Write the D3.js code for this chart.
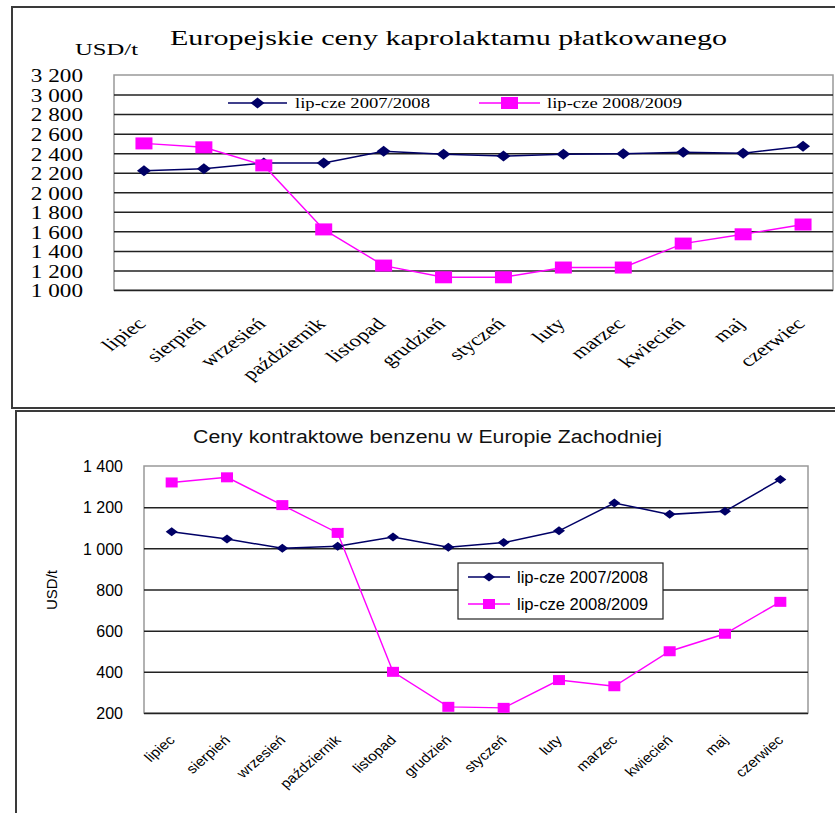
<!DOCTYPE html>
<html>
<head>
<meta charset="utf-8">
<script src="https://cdn.jsdelivr.net/npm/d3@7"></script>
<style>
  html, body { margin: 0; padding: 0; background: #fff; }
  svg { display: block; }
</style>
</head>
<body>
<svg id="chart" width="835" height="813"></svg>
<script>
// ---------- DATA ----------
const months = ["lipiec","sierpień","wrzesień","październik","listopad","grudzień","styczeń","luty","marzec","kwiecień","maj","czerwiec"];
const seriesNames = ["lip-cze 2007/2008", "lip-cze 2008/2009"];

const caproTitle = "Europejskie ceny kaprolaktamu płatkowanego";
const capro0708 = [2220, 2240, 2300, 2300, 2420, 2390, 2370, 2390, 2395, 2410, 2400, 2470];
const capro0809 = [2500, 2460, 2275, 1620, 1250, 1130, 1130, 1230, 1230, 1475, 1570, 1670];
const caproTicks = [1000, 1200, 1400, 1600, 1800, 2000, 2200, 2400, 2600, 2800, 3000, 3200];

const benzTitle = "Ceny kontraktowe benzenu w Europie Zachodniej";
const benz0708 = [1080, 1045, 1000, 1010, 1055, 1005, 1028, 1085, 1220, 1165, 1180, 1335];
const benz0809 = [1320, 1345, 1210, 1075, 400, 230, 225, 360, 330, 500, 585, 740];
const benzTicks = [200, 400, 600, 800, 1000, 1200, 1400];

const unitLabel = "USD/t";

// ---------- STYLE ----------
const NAVY = "#000066", MAGENTA = "#ff00ff";
const SERIF = "'Liberation Serif','Times New Roman',serif";
const SANS = "'Liberation Sans',Arial,sans-serif";
const fmt = d3.formatLocale({decimal: ",", thousands: " ", grouping: [3], currency: ["", ""]}).format(",d");

const svg = d3.select("#chart");

function diamond(w, h) { return `M0,${-h/2}L${w/2},0L0,${h/2}L${-w/2},0Z`; }

function drawChart(cfg) {
  const g = svg.append("g");
  // outer frame
  g.append("rect").attr("x", cfg.frame[0]).attr("y", cfg.frame[1])
    .attr("width", cfg.frame[2]).attr("height", cfg.frame[3])
    .attr("fill", "#fff").attr("stroke", "#3a3a3a").attr("stroke-width", 2);

  const x = d3.scaleBand().domain(months).range([cfg.left, cfg.right]);
  const cx = d => x(d) + x.bandwidth() / 2;
  const y = d3.scaleLinear().domain(cfg.domain).range([cfg.bottom, cfg.top]);

  // plot area border
  g.append("rect").attr("x", cfg.left).attr("y", cfg.top)
    .attr("width", cfg.right - cfg.left).attr("height", cfg.bottom - cfg.top)
    .attr("fill", "#fff").attr("stroke", "#999").attr("stroke-width", 1.5);

  // gridlines
  const grid = g.append("g").attr("transform", `translate(${cfg.left},0)`)
    .call(d3.axisLeft(y).tickValues(cfg.ticks.filter(t => t !== cfg.domain[1]))
      .tickSize(-(cfg.right - cfg.left)).tickFormat(""));
  grid.select(".domain").remove();
  grid.selectAll(".tick line").attr("stroke", "#222").attr("stroke-width", 1.5);

  // y tick labels
  const yax = g.append("g").attr("transform", `translate(${cfg.yLabelRight},0)`)
    .call(d3.axisLeft(y).tickValues(cfg.ticks).tickSize(0).tickPadding(0).tickFormat(fmt));
  yax.select(".domain").remove();
  yax.attr("font-family", null);
  yax.selectAll("text")
    .attr("x", 0).attr("dy", "0.36em")
    .attr("font-family", cfg.font).attr("font-size", cfg.yFont).attr("fill", "#000")
    .attr("text-anchor", "end")
    .attr("transform", `scale(${cfg.yStretch},1)`);

  // x labels
  g.append("g").selectAll("text").data(months).join("text")
    .attr("transform", d => `translate(${cx(d) + cfg.xLabelDx},${cfg.bottom + cfg.xLabelDy}) scale(${cfg.xStretch},1) rotate(-45)`)
    .attr("text-anchor", "end")
    .attr("font-family", cfg.font).attr("font-size", cfg.xFont).attr("fill", "#000")
    .text(d => d);

  // series
  const line = d3.line().x((d, i) => cx(months[i])).y(d => y(d));
  g.append("path").datum(cfg.s1).attr("d", line).attr("fill", "none")
    .attr("stroke", NAVY).attr("stroke-width", 1.5);
  g.append("path").datum(cfg.s2).attr("d", line).attr("fill", "none")
    .attr("stroke", MAGENTA).attr("stroke-width", 1.4);
  g.append("g").selectAll("path").data(cfg.s1).join("path")
    .attr("transform", (d, i) => `translate(${cx(months[i])},${y(d)})`)
    .attr("d", diamond(cfg.dia[0], cfg.dia[1])).attr("fill", NAVY);
  g.append("g").selectAll("rect").data(cfg.s2).join("rect")
    .attr("x", (d, i) => cx(months[i]) - cfg.sq[0] / 2)
    .attr("y", d => y(d) - cfg.sq[1] / 2)
    .attr("width", cfg.sq[0]).attr("height", cfg.sq[1]).attr("fill", MAGENTA);

  return g;
}

// ---------- TOP CHART ----------
const topChart = drawChart({
  frame: [12, 7, 840, 401],
  left: 114, right: 833, top: 75, bottom: 290,
  domain: [1000, 3200], ticks: caproTicks,
  font: SERIF, yFont: 19, yStretch: 1.22, yLabelRight: 83,
  xFont: 17, xStretch: 1.35, xLabelDx: 3, xLabelDy: 35,
  s1: capro0708, s2: capro0809, dia: [14, 11], sq: [17, 12]
});
topChart.append("text").attr("x", 170).attr("y", 45)
  .attr("font-family", SERIF).attr("font-size", 21)
  .attr("textLength", 557).attr("lengthAdjust", "spacingAndGlyphs")
  .text(caproTitle);
topChart.append("text").attr("x", 75).attr("y", 55)
  .attr("font-family", SERIF).attr("font-size", 17.5)
  .attr("textLength", 63).attr("lengthAdjust", "spacingAndGlyphs")
  .text(unitLabel);
// top legend
const topLeg = [
  {name: seriesNames[0], x1: 228, x2: 287, tx: 295, tw: 135, color: NAVY, mark: "d"},
  {name: seriesNames[1], x1: 479, x2: 540, tx: 547, tw: 135, color: MAGENTA, mark: "s"}
];
topLeg.forEach(l => {
  const ly = 103;
  topChart.append("line").attr("x1", l.x1).attr("x2", l.x2).attr("y1", ly).attr("y2", ly)
    .attr("stroke", l.color).attr("stroke-width", 1.5);
  const mx = (l.x1 + l.x2) / 2;
  if (l.mark === "d") topChart.append("path").attr("d", diamond(14, 11)).attr("transform", `translate(${mx},${ly})`).attr("fill", l.color);
  else topChart.append("rect").attr("x", mx - 8.5).attr("y", ly - 6).attr("width", 17).attr("height", 12).attr("fill", l.color);
  topChart.append("text").attr("x", l.tx).attr("y", ly).attr("dy", "0.33em")
    .attr("font-family", SERIF).attr("font-size", 15)
    .attr("textLength", l.tw).attr("lengthAdjust", "spacingAndGlyphs")
    .text(l.name);
});

// ---------- BOTTOM CHART ----------
const botChart = drawChart({
  frame: [16, 411, 840, 410],
  left: 144, right: 808, top: 466, bottom: 713,
  domain: [200, 1400], ticks: benzTicks,
  font: SANS, yFont: 16, yStretch: 1, yLabelRight: 123,
  xFont: 13.5, xStretch: 1.15, xLabelDx: 4, xLabelDy: 28,
  s1: benz0708, s2: benz0809, dia: [12, 9], sq: [12, 10]
});
botChart.append("text").attr("x", 193).attr("y", 443)
  .attr("font-family", SANS).attr("font-size", 18).attr("fill", "#111")
  .attr("textLength", 469).attr("lengthAdjust", "spacingAndGlyphs")
  .text(benzTitle);
botChart.append("text").attr("transform", "translate(57,590) rotate(-90)")
  .attr("text-anchor", "middle")
  .attr("font-family", SANS).attr("font-size", 15)
  .text(unitLabel);
// bottom legend
botChart.append("rect").attr("x", 458).attr("y", 563).attr("width", 205).attr("height", 56)
  .attr("fill", "#fff").attr("stroke", "#222").attr("stroke-width", 1.2);
[{name: seriesNames[0], y: 577, color: NAVY, mark: "d"},
 {name: seriesNames[1], y: 604, color: MAGENTA, mark: "s"}].forEach(l => {
  botChart.append("line").attr("x1", 468).attr("x2", 510).attr("y1", l.y).attr("y2", l.y)
    .attr("stroke", l.color).attr("stroke-width", 1.5);
  if (l.mark === "d") botChart.append("path").attr("d", diamond(12, 9)).attr("transform", `translate(489,${l.y})`).attr("fill", l.color);
  else botChart.append("rect").attr("x", 483).attr("y", l.y - 5).attr("width", 12).attr("height", 10).attr("fill", l.color);
  botChart.append("text").attr("x", 517).attr("y", l.y).attr("dy", "0.36em")
    .attr("font-family", SANS).attr("font-size", 16)
    .attr("textLength", 131).attr("lengthAdjust", "spacingAndGlyphs")
    .text(l.name);
});
</script>
</body>
</html>
